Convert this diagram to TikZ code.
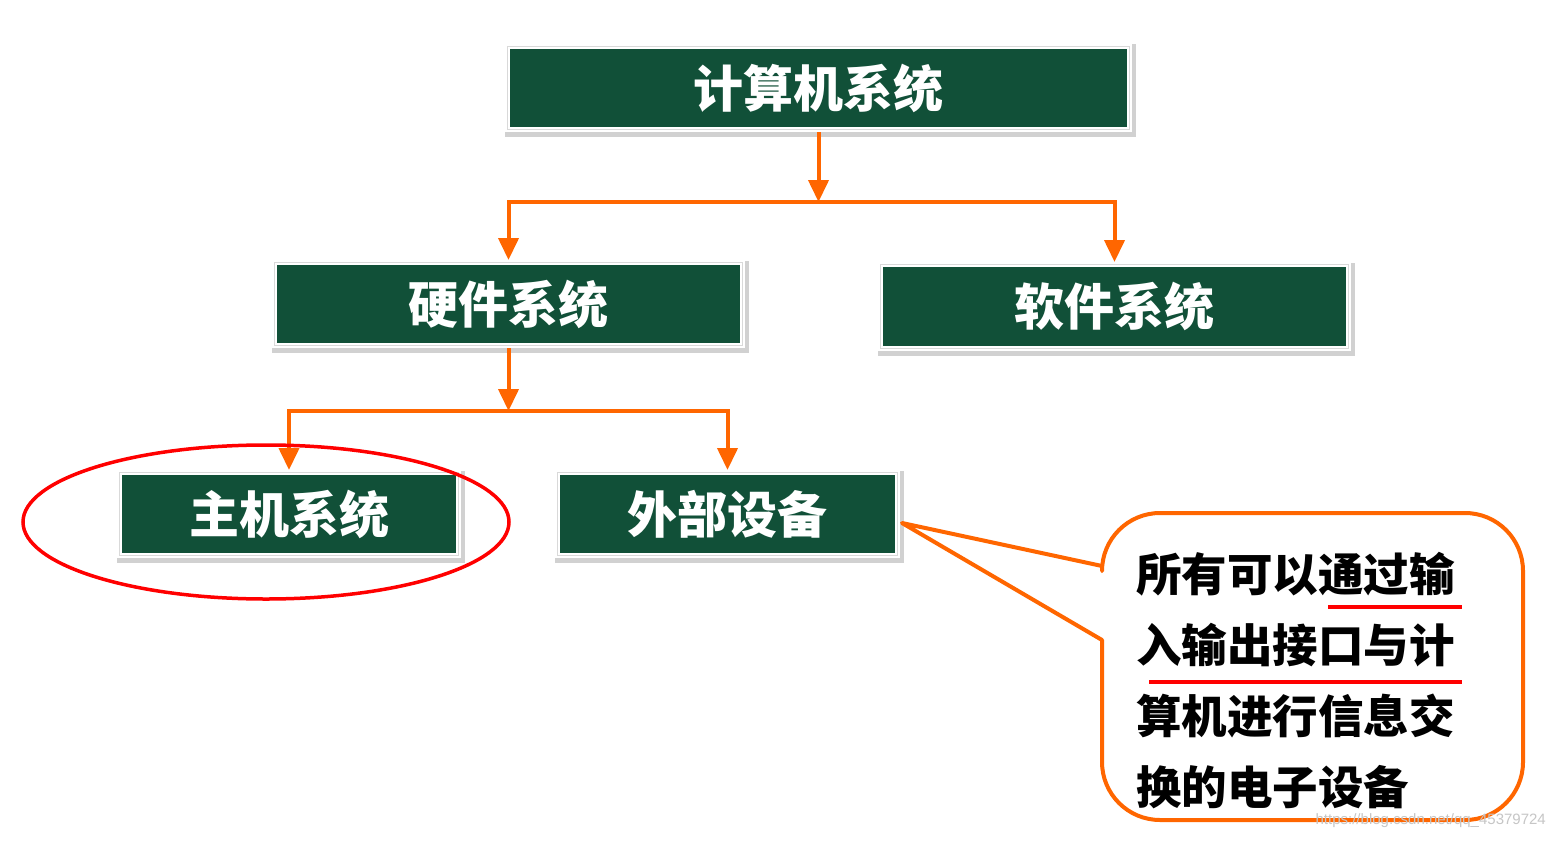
\documentclass[tikz,border=0pt]{standalone}
\usepackage{fontspec}
\newfontfamily\cjk{Noto Sans CJK SC}
\setsansfont{Liberation Sans}
\usetikzlibrary{arrows.meta}
\definecolor{boxgreen}{RGB}{17,80,56}
\definecolor{conorange}{RGB}{255,102,0}
\begin{document}
\begin{tikzpicture}[x=1pt,y=-1pt,
  gbox/.style={fill=boxgreen, draw=white, line width=5pt, text=white,
    font=\cjk\bfseries\fontsize{50}{58}\selectfont, inner sep=0pt,
    minimum height=83pt,
    preaction={draw=black!18, line width=9pt, transform canvas={xshift=1.5pt,yshift=-2.5pt}},
    postaction={draw=black!15, line width=0.6pt}},
  conn/.style={draw=conorange, line width=4pt},
  arr/.style={conn, -{Triangle[length=22pt,width=20pt]}},
  uline/.style={draw=red, line width=4pt},
  desc/.style={font=\cjk\bfseries\fontsize{45.5}{71}\selectfont, anchor=north west, inner sep=0pt, align=left}
]
\useasboundingbox[fill=white] (0,0) rectangle (1554,840);

% boxes
\node[gbox, minimum width=622pt] (top) at (818.5,88) {计算机系统};
\node[gbox, minimum width=468pt] (hw) at (508.5,304) {硬件系统};
\node[gbox, minimum width=468pt, minimum height=84pt] (sw) at (1114.5,306.5) {软件系统};
\node[gbox, minimum width=339pt] (host) at (289,514) {主机系统};
\node[gbox, minimum width=340pt] (ext) at (727.5,514) {外部设备};

% connectors
\coordinate (j1) at (818.5,202);
\coordinate (j2) at (508.5,411);
\draw[arr] (top.south) -- (j1);
\draw[arr] (j1) -| (hw.north);
\draw[arr] (j1) -| (sw.north);
\draw[arr] (hw.south) -- (j2);
\draw[arr] (j2) -| (host.north);
\draw[arr] (j2) -| (ext.north);

% red ellipse around host
\draw[red, line width=3.5pt] (266,522) ellipse [x radius=243, y radius=77];

% callout
\coordinate (tip) at ([xshift=2pt,yshift=-9pt]ext.east);
\draw[conn, line join=round] (1102,640) [rounded corners=58pt] -- (1102,820) -- (1523,820) -- (1523,513) -- (1102,513) [sharp corners] -- (1102,566) -- (tip) -- cycle;

\node[desc] (txt) at (1136,552) {所有可以通过输\\入输出接口与计\\算机进行信息交\\换的电子设备};
\draw[uline] (1328,607) -- (1462,607);
\draw[uline] (1149,682) -- (1462,682);

% watermark
\node[font=\sffamily\fontsize{15}{18}\selectfont, text=gray!45, anchor=east, inner sep=0pt] (wm) at (1546,821) {https://blog.csdn.net/qq\_45379724};
\end{tikzpicture}
\end{document}
